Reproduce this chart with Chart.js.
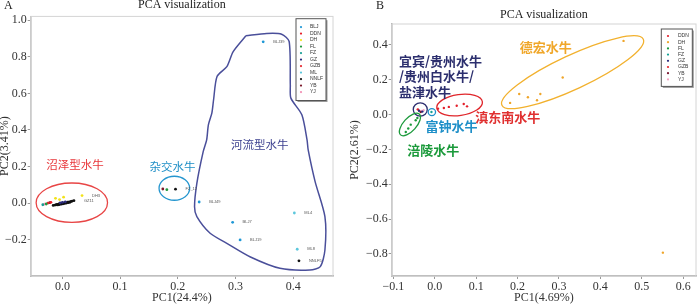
<!DOCTYPE html>
<html lang="en">
<head>
<meta charset="UTF-8" />
<title>PCA visualization</title>
<script src="https://cdn.jsdelivr.net/npm/chart.js"></script>
<style>
  body { margin: 0; background: #fff; width: 700px; height: 305px; overflow: hidden; position: relative; }
  .panel { position: absolute; top: 0; width: 350px; height: 305px; }
  #panelA { left: 0; }
  #panelB { left: 350px; }
</style>
</head>
<body>
<div class="panel" id="panelA"><canvas id="chartA" width="350" height="305"></canvas></div>
<div class="panel" id="panelB"><canvas id="chartB" width="350" height="305"></canvas></div>
<script>
// ---- panel A : all breeds ----
const groupsA = ['BLJ', 'DDN', 'DH', 'FL', 'FZ', 'GZ', 'GZB', 'ML', 'NNLF', 'YB', 'YJ'];
const colorsA = ['#1f98d6', '#e8202a', '#f2e21b', '#1f9a3c', '#169f95', '#2b2b7c', '#e5252d', '#5cc7dc', '#111111', '#7c1a2c', '#f28db2'];
const aBLJ = [[0.348, 0.881], [0.237, 0.007], [0.295, -0.104], [0.308, -0.200]];
const aDDN = [[-0.020, 0.005]];
const aDH = [[-0.012, 0.027], [-0.005, 0.020], [0.002, 0.033], [0.034, 0.042]];
const aFL = [[-0.028, -0.004], [0.181, 0.074]];
const aFZ = [[-0.034, -0.008]];
const aGZ = [[0.000, 0.005], [0.005, 0.008], [-0.004, 0.002]];
const aGZB = [[-0.025, 0.001]];
const aML = [[0.402, -0.053], [0.407, -0.251]];
const aNNLF = [[-0.016, -0.012], [-0.013, -0.010], [-0.011, -0.008], [-0.009, -0.006], [-0.008, -0.009],
  [-0.006, -0.004], [-0.005, -0.007], [-0.003, -0.002], [-0.002, -0.005], [0.000, 0.000], [0.001, -0.003],
  [0.003, 0.002], [0.004, -0.001], [0.006, 0.004], [0.007, 0.001], [0.009, 0.006], [0.010, 0.003],
  [0.012, 0.008], [0.013, 0.005], [0.015, 0.010], [0.017, 0.012], [0.020, 0.014],
  [0.196, 0.077], [0.410, -0.314]];
const aYB = [[-0.022, 0.003], [0.174, 0.078]];
const aYJ = [[-0.031, -0.005]];
const pointsA = [aBLJ, aDDN, aDH, aFL, aFZ, aGZ, aGZB, aML, aNNLF, aYB, aYJ];
// sample names printed next to some points: [group, index, name]
const tagsA = [['BLJ', 0, 'BLJ39'], ['BLJ', 1, 'BLJ49'], ['BLJ', 2, 'BLJ7'], ['BLJ', 3, 'BLJ19'],
  ['ML', 0, 'ML4'], ['ML', 1, 'ML8'], ['NNLF', 23, 'NNLF5'], ['NNLF', 22, 'FZ_12'],
  ['NNLF', 21, 'GZ11'], ['DH', 3, 'DH3']];
// hand drawn outline around the river type
const riverOutline = [[0.318, 0.914], [0.354, 0.927], [0.380, 0.923], [0.393, 0.883], [0.395, 0.646],
  [0.396, 0.574], [0.415, 0.483], [0.424, 0.346], [0.426, 0.291], [0.438, 0.118], [0.455, -0.073],
  [0.455, -0.255], [0.447, -0.346], [0.429, -0.364], [0.377, -0.355], [0.325, -0.292], [0.285, -0.219],
  [0.256, -0.164], [0.233, -0.073], [0.229, -0.019], [0.233, 0.109], [0.244, 0.282], [0.250, 0.346],
  [0.253, 0.428], [0.259, 0.492], [0.262, 0.565], [0.268, 0.692], [0.285, 0.746], [0.296, 0.828],
  [0.318, 0.914]];
const xTicksA = [0, 0.1, 0.2, 0.3, 0.4];
const yTicksA = [-0.2, 0, 0.2, 0.4, 0.6, 0.8, 1.0];

// ---- panel B : swamp breeds only ----
const groupsB = ['DDN', 'DH', 'FL', 'FZ', 'GZ', 'GZB', 'YB', 'YJ'];
const colorsB = ['#e3202b', '#efa52a', '#1c9a3c', '#16a295', '#29297a', '#e5252d', '#7a1630', '#f6a3c2'];
const bDDN = [[0.008, 0.034], [0.022, 0.038], [0.034, 0.044], [0.053, 0.051], [0.070, 0.061], [0.078, 0.047]];
const bDH = [[0.456, 0.423], [0.309, 0.213], [0.204, 0.118], [0.225, 0.099], [0.255, 0.118],
  [0.247, 0.082], [0.182, 0.067], [0.551, -0.793]];
const bFL = [[-0.070, -0.100], [-0.064, -0.080], [-0.058, -0.058], [-0.046, -0.033], [-0.042, -0.020]];
const bFZ = [[-0.008, 0.015]];
const bGZ = [[-0.038, 0.022], [-0.030, 0.017]];
const bGZB = [[-0.041, 0.030]];
const bYB = [[-0.034, 0.014]];
const bYJ = [[-0.040, 0.028], [-0.033, 0.021], [-0.027, 0.025]];
const pointsB = [bDDN, bDH, bFL, bFZ, bGZ, bGZB, bYB, bYJ];
const xTicksB = [-0.1, 0, 0.1, 0.2, 0.3, 0.4, 0.5, 0.6];
const yTicksB = [-0.8, -0.6, -0.4, -0.2, 0, 0.2, 0.4];

const SERIF = '"Liberation Serif", "Times New Roman", serif';
const CJK = '"Noto Sans CJK SC", sans-serif';
const fmt = v => (v < 0 ? '\u2212' : '') + Math.abs(v).toFixed(1);

// ellipses, group names, sample names, legend box, panel letter
const extrasPlugin = {
  id: 'extras',
  beforeDatasetsDraw(chart) {
    const a = chart.chartArea, ctx = chart.ctx;
    ctx.save();
    ctx.strokeStyle = '#d4d4d4';
    ctx.lineWidth = 1;
    ctx.strokeRect(a.left, a.top, a.right - a.left, a.bottom - a.top);
    ctx.restore();
  },
  afterDatasetsDraw(chart, args, opts) {
    const ctx = chart.ctx, xs = chart.scales.x, ys = chart.scales.y, a = chart.chartArea;
    ctx.save();
    (opts.ellipses || []).forEach(e => {
      ctx.beginPath();
      ctx.ellipse(xs.getPixelForValue(e.x), ys.getPixelForValue(e.y), e.rx, e.ry, e.rot * Math.PI / 180, 0, Math.PI * 2);
      ctx.strokeStyle = e.color;
      ctx.lineWidth = e.width || 1.3;
      ctx.stroke();
    });
    (opts.texts || []).forEach(t => {
      ctx.font = t.font;
      ctx.fillStyle = t.color;
      ctx.textAlign = 'left';
      ctx.textBaseline = 'middle';
      ctx.fillText(t.text, xs.getPixelForValue(t.x), ys.getPixelForValue(t.y));
    });
    (opts.tags || []).forEach(([g, i, name]) => {
      const di = opts.groups.indexOf(g);
      const el = chart.getDatasetMeta(di).data[i];
      ctx.font = '4px "Liberation Sans", sans-serif';
      ctx.fillStyle = '#555';
      ctx.textAlign = 'left';
      ctx.textBaseline = 'middle';
      ctx.fillText(name, el.x + 10, el.y);
    });
    const L = opts.legend;
    if (L) {
      const bx = a.right - L.right - L.w, by = a.top + L.top;
      const bh = L.first * 2 + L.step * (opts.groups.length - 1);
      ctx.fillStyle = '#999';
      ctx.fillRect(bx + 1.5, by + 1.5, L.w, bh);
      ctx.fillStyle = '#fff';
      ctx.fillRect(bx, by, L.w, bh);
      ctx.strokeStyle = '#555';
      ctx.lineWidth = 1;
      ctx.strokeRect(bx, by, L.w, bh);
      ctx.font = '5px "Liberation Sans", Arial, sans-serif';
      ctx.textBaseline = 'middle';
      opts.groups.forEach((g, i) => {
        const y = by + L.first + i * L.step;
        ctx.fillStyle = opts.colors[i];
        ctx.beginPath();
        ctx.arc(bx + L.dot, y, 1.1, 0, Math.PI * 2);
        ctx.fill();
        ctx.fillStyle = '#333';
        ctx.fillText(g, bx + L.text, y);
      });
    }
    if (opts.letter) {
      ctx.font = '12px ' + SERIF;
      ctx.fillStyle = '#222';
      ctx.textAlign = 'left';
      ctx.textBaseline = 'middle';
      ctx.fillText(opts.letter.text, opts.letter.x, opts.letter.y);
    }
    ctx.restore();
  }
};

function scatterSets(groups, colors, points, radius) {
  return groups.map((g, i) => ({
    label: g,
    data: points[i].map(p => ({ x: p[0], y: p[1] })),
    backgroundColor: colors[i],
    borderWidth: 0,
    pointRadius: radius
  }));
}

function axis(min, max, ticks, title, size, titlePad) {
  return {
    type: 'linear', min, max,
    afterBuildTicks: s => { s.ticks = ticks.map(v => ({ value: v })); },
    afterFit: s => { if (s.isHorizontal()) s.height = size; else s.width = size; },
    grid: { drawOnChartArea: false, drawTicks: true, tickLength: 3, color: '#999' },
    border: { color: '#aaa', width: 1.5 },
    ticks: { font: { family: SERIF, size: 12 }, color: '#333', padding: 1, maxRotation: 0, callback: fmt },
    title: { display: true, text: title, font: { family: SERIF, size: 12 }, color: '#333', padding: titlePad }
  };
}

function makeChart(id, cfg) {
  return new Chart(document.getElementById(id), {
    type: 'scatter',
    data: { datasets: cfg.datasets },
    options: {
      responsive: false,
      animation: false,
      layout: { padding: cfg.padding },
      scales: { x: cfg.x, y: cfg.y },
      plugins: {
        legend: { display: false },
        tooltip: { enabled: false },
        title: {
          display: true, text: 'PCA visualization', fullSize: false,
          font: { family: SERIF, size: 12, weight: 'normal' }, color: '#222', padding: cfg.titlePad
        },
        extras: cfg.extras
      }
    },
    plugins: [extrasPlugin]
  });
}

const setsA = scatterSets(groupsA, colorsA, pointsA, 1.4);
setsA.push({
  label: 'outline',
  data: riverOutline.map(p => ({ x: p[0], y: p[1] })),
  showLine: true, pointRadius: 0, borderColor: '#4a4f9a', borderWidth: 1.5, tension: 0.25
});

makeChart('chartA', {
  datasets: setsA,
  padding: { left: 0, right: 17, top: 0, bottom: 0 },
  titlePad: { top: -2, bottom: 4 },
  x: axis(-0.055, 0.469, xTicksA, 'PC1(24.4%)', 29, { top: 0, bottom: 0 }),
  y: axis(-0.397, 1.02, yTicksA, 'PC2(3.41%)', 30.7, { top: -2, bottom: 0 }),
  extras: {
    groups: groupsA, colors: colorsA, tags: tagsA,
    letter: { text: 'A', x: 4, y: 6 },
    legend: { right: 7, top: 2.3, w: 30, first: 8.4, step: 6.5, dot: 5, text: 14 },
    ellipses: [
      { x: 0.0163, y: 0.003, rx: 35.7, ry: 19.7, rot: 0, color: '#e84545' },
      { x: 0.194, y: 0.082, rx: 15.3, ry: 12, rot: 0, color: '#2596cf' }
    ],
    texts: [
      { text: '沼泽型水牛', x: -0.028, y: 0.209, color: '#e8363a', font: '11.5px ' + CJK },
      { text: '杂交水牛', x: 0.151, y: 0.200, color: '#1d8ec6', font: '11.5px ' + CJK },
      { text: '河流型水牛', x: 0.292, y: 0.319, color: '#3b3f8f', font: '11.5px ' + CJK }
    ]
  }
});

makeChart('chartB', {
  datasets: scatterSets(groupsB, colorsB, pointsB, 1.2),
  padding: { left: 0, right: 2, top: 0, bottom: 0 },
  titlePad: { top: 7.8, bottom: 1.8 },
  x: axis(-0.104, 0.631, xTicksB, 'PC1(4.69%)', 29, { top: 0, bottom: 0 }),
  y: axis(-0.927, 0.52, yTicksB, 'PC2(2.61%)', 41.7, { top: -2, bottom: 0 }),
  extras: {
    groups: groupsB, colors: colorsB,
    letter: { text: 'B', x: 26, y: 6.3 },
    legend: { right: 3.7, top: 5, w: 31, first: 7, step: 6.2, dot: 6.7, text: 16.7 },
    ellipses: [
      { x: 0.333, y: 0.243, rx: 78, ry: 17, rot: -25, color: '#f2b12e' },
      { x: 0.060, y: 0.055, rx: 23, ry: 10.5, rot: -8, color: '#e0262b' },
      { x: -0.035, y: 0.029, rx: 7, ry: 6.7, rot: 0, color: '#2b2d6e' },
      { x: -0.007, y: 0.014, rx: 3.7, ry: 3.5, rot: 0, color: '#1e90c8' },
      { x: -0.060, y: -0.057, rx: 14, ry: 6.5, rot: -48, color: '#1c9a3c' }
    ],
    texts: [
      { text: '德宏水牛', x: 0.2055, y: 0.385, color: '#f0a72a', font: 'bold 13px ' + CJK },
      { text: '宜宾/贵州水牛', x: -0.0863, y: 0.305, color: '#2c2f6e', font: 'bold 13px ' + CJK },
      { text: '/贵州白水牛/', x: -0.0863, y: 0.219, color: '#2c2f6e', font: 'bold 13px ' + CJK },
      { text: '盐津水牛', x: -0.0863, y: 0.127, color: '#2c2f6e', font: 'bold 13px ' + CJK },
      { text: '滇东南水牛', x: 0.0976, y: -0.013, color: '#e03030', font: 'bold 13px ' + CJK },
      { text: '富钟水牛', x: -0.0223, y: -0.067, color: '#1e8fc8', font: 'bold 13px ' + CJK },
      { text: '涪陵水牛', x: -0.0664, y: -0.206, color: '#1b9a3b', font: 'bold 13px ' + CJK }
    ]
  }
});
</script>
</body>
</html>
